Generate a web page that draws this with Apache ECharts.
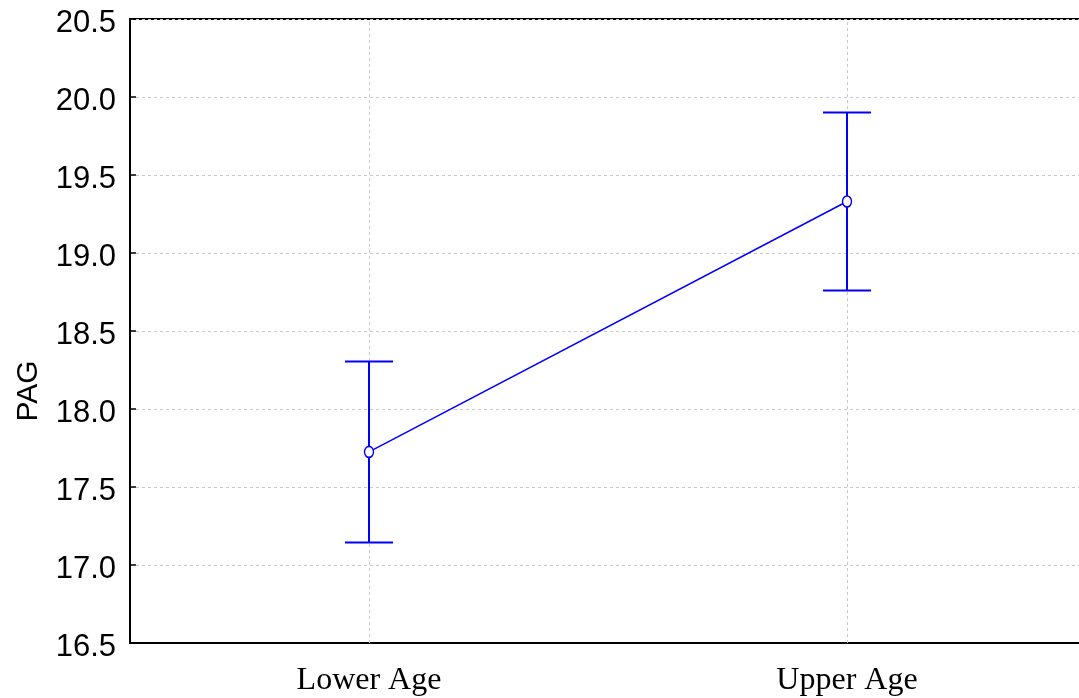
<!DOCTYPE html>
<html>
<head>
<meta charset="utf-8">
<script src="https://cdn.jsdelivr.net/npm/echarts@6/dist/echarts.min.js"></script>
<style>
html,body{margin:0;padding:0;background:#fff;}
#chart{width:1079px;height:698px;}
</style>
</head>
<body>
<div id="chart"></div>
<script>
const categories = ['Lower Age', 'Upper Age'];
const means = [17.725, 19.33];
const lowers = [17.145, 18.76];
const uppers = [18.305, 19.9];
const yTicks = [16.5, 17.0, 17.5, 18.0, 18.5, 19.0, 19.5, 20.0, 20.5];

const blue = '#0000ff';
const errData = categories.map((c, i) => [i, lowers[i], uppers[i]]);

const chart = echarts.init(document.getElementById('chart'), null, {renderer: 'canvas'});
chart.setOption({
  animation: false,
  backgroundColor: '#fff',
  grid: {left: 130, top: 19, height: 624, width: 956, outerBoundsMode: 'none', containLabel: false, show: true, borderColor: '#000', borderWidth: 2, backgroundColor: 'transparent'},
  xAxis: {
    type: 'category',
    data: categories,
    boundaryGap: true,
    axisLine: {lineStyle: {color: '#000', width: 2}},
    axisTick: {inside: true, alignWithLabel: true, length: 6, lineStyle: {color: '#000', width: 1.5}},
    axisLabel: {color: '#000', fontFamily: 'Liberation Serif', fontSize: 32, margin: 22},
    splitLine: {show: false}
  },
  yAxis: {
    type: 'value',
    min: yTicks[0],
    max: yTicks[yTicks.length - 1],
    interval: 0.5,
    name: 'PAG',
    nameLocation: 'middle',
    nameGap: 86,
    nameTextStyle: {color: '#000', fontFamily: 'Liberation Sans', fontSize: 30, padding: [0, 120, 0, 0]},
    axisLine: {show: true, lineStyle: {color: '#000', width: 2}},
    axisTick: {show: true, inside: true, length: 6, lineStyle: {color: '#000', width: 1.5}},
    axisLabel: {color: '#000', fontFamily: 'Liberation Sans', fontSize: 31, margin: 14, verticalAlign: 'top', lineHeight: 8, formatter: v => v.toFixed(1)},
    splitLine: {show: true, lineStyle: {color: '#c8c8c8', type: [3, 3], width: 1}}
  },
  series: [
    {
      type: 'custom',
      data: errData,
      encode: {x: 0, y: [1, 2]},
      z: 3,
      renderItem: function (params, api) {
        const x = api.value(0);
        const lo = api.coord([x, api.value(1)]);
        const hi = api.coord([x, api.value(2)]);
        const hw = 24;
        const style = {stroke: blue, lineWidth: 2};
        return {
          type: 'group',
          children: [
            {type: 'line', shape: {x1: hi[0], y1: hi[1], x2: lo[0], y2: lo[1]}, style: style},
            {type: 'line', shape: {x1: hi[0] - hw, y1: hi[1], x2: hi[0] + hw, y2: hi[1]}, style: style},
            {type: 'line', shape: {x1: lo[0] - hw, y1: lo[1], x2: lo[0] + hw, y2: lo[1]}, style: style}
          ]
        };
      }
    },
    {
      type: 'line',
      data: means,
      z: 5,
      symbol: 'circle',
      symbolSize: [9, 11],
      showSymbol: true,
      lineStyle: {color: blue, width: 1.5},
      itemStyle: {color: '#fff', borderColor: blue, borderWidth: 1.5},
      markLine: {
        silent: true,
        symbol: 'none',
        label: {show: false},
        z: 1,
        lineStyle: {color: '#c8c8c8', type: [3, 3], width: 1},
        data: categories.map(c => ({xAxis: c}))
      }
    }
  ]
});
</script>
</body>
</html>
